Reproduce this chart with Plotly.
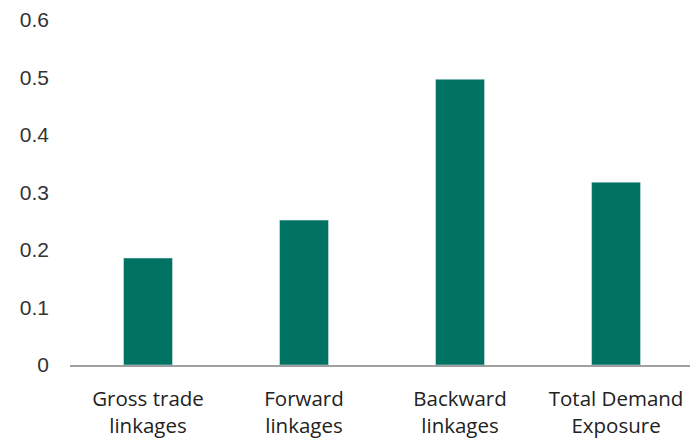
import plotly.graph_objects as go

categories = ["Gross trade<br>linkages", "Forward<br>linkages", "Backward<br>linkages", "Total Demand<br>Exposure"]
values = [0.186, 0.252, 0.497, 0.318]
tick_vals = [0, 0.1, 0.2, 0.3, 0.4, 0.5, 0.6]
tick_text = ["0", "0.1", "0.2", "0.3", "0.4", "0.5", "0.6"]

fig = go.Figure(go.Bar(x=categories, y=values, marker_color="#007262", width=0.314))

fig.update_layout(
    width=690, height=442,
    margin=dict(l=70, r=0, t=20, b=77),
    plot_bgcolor="white", paper_bgcolor="white",
    showlegend=False,
)
fig.update_xaxes(
    range=[-0.5, 3.474],
    showline=True, linecolor="#a0a0a0", linewidth=1.5,
    tickfont=dict(family="Open Sans, Lato, sans-serif", size=20.5, color="#222"),
    ticks="", showgrid=False, automargin=False,
    ticklabelstandoff=15,
)
fig.update_yaxes(
    range=[0, 0.6], tickvals=tick_vals, ticktext=tick_text,
    showgrid=False, zeroline=False, showline=False,
    tickfont=dict(family="Liberation Sans, Arial, sans-serif", size=21, color="#333"),
    ticklabelstandoff=20, automargin=False,
)

fig.write_html("out.html")
